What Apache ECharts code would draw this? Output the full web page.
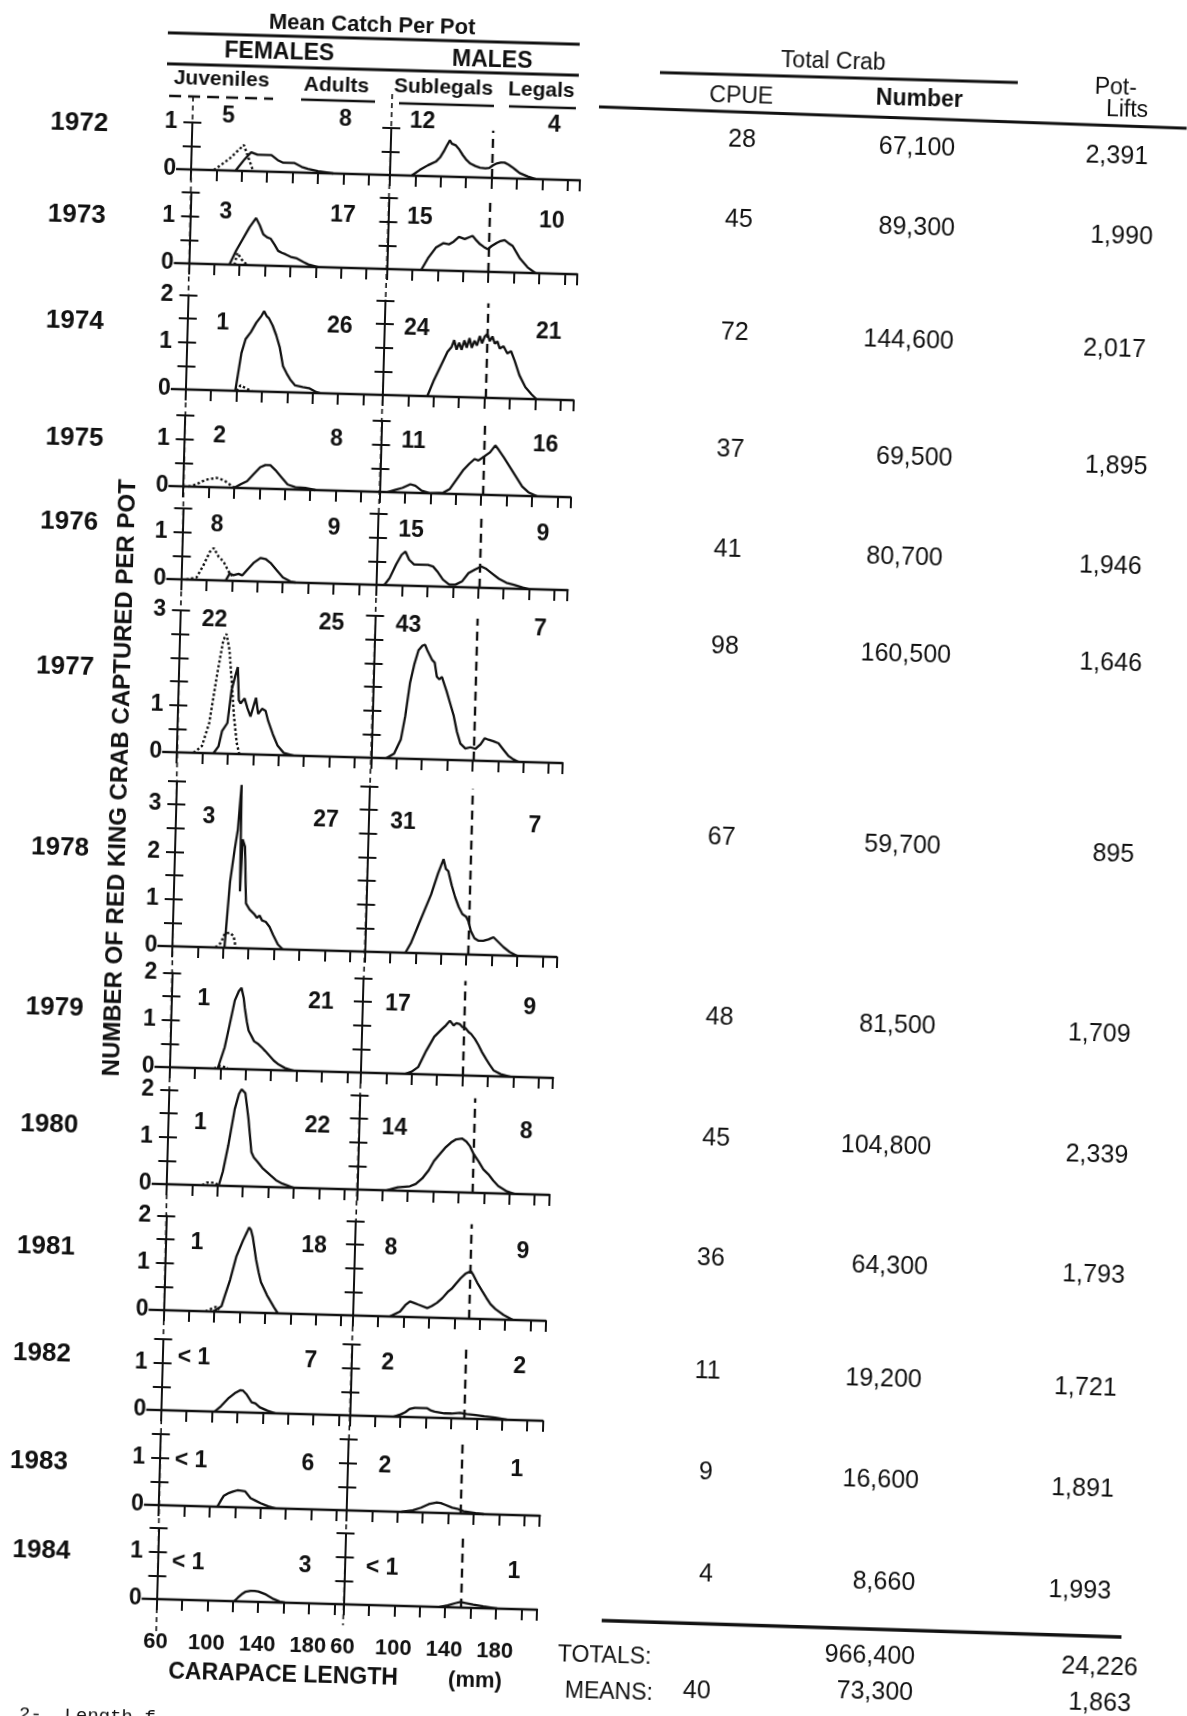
<!DOCTYPE html>
<html><head><meta charset="utf-8">
<script src="https://cdn.jsdelivr.net/npm/echarts/dist/echarts.min.js"></script>
<style>
html,body{margin:0;padding:0;background:#fff;overflow:hidden;width:1187px;height:1716px;}
#c{position:absolute;left:-40px;top:-40px;width:1267px;height:1796px;transform:rotate(1.6deg);transform-origin:50% 50%;}
</style></head><body><div id="c"></div>
<script>
// ---------------- DATA ----------------
const years = ['1972','1973','1974','1975','1976','1977','1978','1979','1980','1981','1982','1983','1984'];
const juvenileCounts = ['5','3','1','2','8','22','3','1','1','1','< 1','< 1','< 1'];
const adultCounts = ['8','17','26','8','9','25','27','21','22','18','7','6','3'];
const sublegalCounts = ['12','15','24','11','15','43','31','17','14','8','2','2','< 1'];
const legalCounts = ['4','10','21','16','9','7','7','9','8','9','2','1','1'];
const cpue = ['28','45','72','37','41','98','67','48','45','36','11','9','4'];
const crabNumber = ['67,100','89,300','144,600','69,500','80,700','160,500','59,700','81,500','104,800','64,300','19,200','16,600','8,660'];
const potLifts = ['2,391','1,990','2,017','1,895','1,946','1,646','895','1,709','2,339','1,793','1,721','1,891','1,993'];
const totalsRow = ['', '966,400', '24,226'];
const meansRow = ['40', '73,300', '1,863'];
const legalSize = [140,140,141,141,141,141,141,140,151,151,150,150,152];
const yAxisMax = [1,1.5,2,1.5,1.5,3,3.5,2,2,2,1.5,1.5,1.5];
const xTickLabels = [60,100,140,180];

const femaleJuveniles = [
 [[78,0],[90,0.25],[101,0.55],[109,0]],
 [[96,0],[98,0.25],[102,0.1],[106,0]],
 [[100,0],[103,0.12],[108,0.05],[112,0]],
 [[64,0],[70,0.05],[77,0.15],[86,0.2],[92,0.15],[99,0.02],[102,0]],
 [[64,0],[72,0.05],[77,0.3],[82,0.6],[85,0.68],[89,0.5],[93,0.4],[97,0.2],[100,0.1]],
 [[73,0],[79.5,0.15],[84.7,0.64],[87,1.1],[90,1.7],[94,2.4],[96.4,2.53],[99,2.2],[101.6,1.5],[104,0.8],[106.8,0.23],[109,0]],
 [[94,0],[98,0.1],[101,0.3],[105,0.32],[108,0.25],[110,0]],
 [[95,0],[100,0.06],[106,0.02]],
 [[88,0],[92,0.06],[98,0.06],[101,0]],
 [[93,0],[97,0.05],[101,0.1],[104,0.05]],
 [], [], []
];
const femaleAdults = [
 [[95,0],[102,0.25],[107,0.4],[112,0.35],[117,0.35],[123,0.35],[128,0.25],[132,0.2],[138,0.2],[141,0.2],[147,0.12],[152,0.08],[160,0.04],[172,0]],
 [[92,0],[97,0.3],[102,0.55],[107,0.8],[112,1.0],[115,0.85],[118,0.66],[121,0.6],[124,0.57],[127,0.45],[130,0.32],[133,0.28],[136,0.25],[140,0.2],[145,0.17],[150,0.1],[154,0.05],[162,0]],
 [[99,0],[101,0.4],[103,0.8],[106,1.1],[110,1.25],[114,1.45],[118,1.6],[120,1.7],[122,1.6],[124,1.55],[127,1.4],[130,1.2],[133,0.95],[136,0.55],[139,0.4],[142,0.27],[146,0.15],[152,0.12],[157,0.1],[162,0.03],[166,0]],
 [[100,0],[105,0.08],[110,0.15],[115,0.3],[120,0.45],[124,0.5],[128,0.5],[132,0.4],[137,0.25],[142,0.1],[148,0.05],[156,0.04],[164,0]],
 [[95,0],[98,0.15],[101,0.12],[105,0.15],[108,0.12],[112,0.25],[117,0.4],[122,0.5],[126,0.48],[130,0.4],[135,0.25],[140,0.1],[146,0.02],[150,0]],
 [[88.6,0],[92.5,0.15],[95,0.48],[99,0.65],[101.6,1.35],[104,1.63],[106,1.84],[107.5,1.14],[109,1.07],[112,1.18],[114.5,0.97],[117,0.8],[119,1.0],[121,1.2],[123,0.86],[126,0.97],[128.8,0.93],[131,0.72],[135,0.44],[139,0.2],[144,0.05],[152,0]],
 [[101,0],[104,1.4],[107,2.1],[109,2.5],[111,3.45],[112,1.2],[113,2.3],[115,2.15],[117,0.95],[120,0.82],[124,0.72],[126,0.65],[128,0.7],[130,0.6],[133,0.57],[136,0.47],[139,0.3],[143,0.1],[147,0]],
 [[98,0],[103,0.45],[106,0.87],[110,1.45],[113,1.65],[115,1.72],[117,1.5],[118,1.3],[120,1.0],[121.5,0.82],[124,0.7],[126,0.6],[129,0.55],[132,0.48],[135,0.4],[138.5,0.3],[142,0.2],[146,0.12],[151,0.05],[158,0]],
 [[101,0],[104,0.3],[107.7,0.86],[112,1.63],[115,1.95],[117,2.05],[120,1.97],[123,1.43],[126,0.73],[128,0.62],[131,0.53],[135,0.4],[141.5,0.25],[146,0.15],[151,0.08],[160,0]],
 [[99,0],[105.5,0.12],[108,0.35],[111.7,0.68],[116,1.17],[121,1.52],[124,1.7],[125.5,1.8],[127,1.75],[128.6,1.6],[131.7,1.12],[134,0.85],[136,0.65],[141,0.38],[147,0.12],[150,0]],
 [[102,0],[107,0.12],[113,0.3],[117.5,0.4],[122,0.47],[124,0.46],[127,0.38],[131,0.22],[134,0.2],[137.5,0.12],[143.7,0.05],[150,0]],
 [[106,0],[109,0.15],[111,0.24],[115,0.3],[118,0.33],[121.5,0.36],[125,0.35],[127.7,0.34],[132,0.2],[136,0.15],[140,0.1],[146,0.04],[152,0]],
 [[121,0],[124,0.08],[127.7,0.17],[130,0.21],[133.8,0.23],[137,0.23],[140,0.22],[146,0.16],[152,0.07],[157,0.02],[161,0]]
];
const males = [
 [[77,0],[83.6,0.13],[89.7,0.23],[95.8,0.31],[99,0.4],[101.8,0.53],[104,0.65],[106.4,0.77],[108,0.7],[111,0.67],[114,0.58],[117,0.46],[120,0.36],[123,0.29],[127,0.24],[130.6,0.21],[135,0.2],[138,0.21],[141,0.27],[144,0.31],[147,0.33],[150,0.33],[153,0.29],[156,0.24],[159,0.18],[162,0.12],[168.5,0.05],[175,0]],
 [[87,0],[92,0.25],[98,0.48],[104,0.58],[108.5,0.56],[112,0.62],[116,0.72],[120.6,0.68],[124,0.72],[126.7,0.75],[129,0.68],[132.7,0.58],[136,0.52],[138.8,0.48],[142,0.55],[146,0.62],[149,0.66],[152,0.68],[155,0.62],[158.5,0.56],[161,0.45],[164.5,0.3],[170.6,0.12],[177,0]],
 [[95,0],[100,0.35],[105,0.65],[110,0.95],[113,1.05],[115,1.2],[117,1.0],[119,1.15],[121,1.0],[123,1.2],[125,1.05],[127,1.25],[129,1.05],[131,1.2],[133,1.1],[135,1.3],[137,1.15],[139,1.3],[141,1.35],[143,1.2],[145,1.3],[147,1.15],[149,1.2],[151,1.05],[154,1.1],[157,0.95],[160,1.0],[163,0.8],[167,0.5],[172,0.25],[177,0.1],[181,0]],
 [[66,0],[72,0.05],[78,0.1],[84,0.18],[88,0.15],[93,0.05],[100,0],[110,0.02],[115,0.1],[120,0.3],[125,0.5],[130,0.65],[134,0.75],[137,0.72],[141,0.8],[146,0.9],[150,1.05],[153,0.95],[157,0.8],[162,0.6],[167,0.4],[172,0.2],[177,0.08],[184,0]],
 [[66,0],[70,0.15],[75,0.45],[79,0.65],[82,0.72],[85,0.55],[89,0.45],[94,0.45],[100,0.45],[104,0.42],[108,0.3],[112,0.15],[117,0.05],[122,0.05],[127,0.12],[132,0.3],[137,0.38],[142,0.45],[146,0.4],[151,0.3],[156,0.2],[162,0.12],[168,0.08],[175,0.03],[180,0]],
 [[72,0],[78,0.1],[83,0.4],[86,0.9],[89,1.6],[92,2.0],[95,2.3],[98,2.4],[100,2.42],[102,2.3],[104,2.2],[106,2.1],[108,2.05],[110,1.75],[112,1.7],[114,1.75],[116,1.6],[118,1.45],[121,1.2],[124,0.95],[127,0.6],[130,0.35],[134,0.25],[138,0.28],[142,0.25],[146,0.35],[149,0.48],[152,0.45],[156,0.42],[160,0.38],[164,0.25],[168,0.12],[172,0.05],[176,0]],
 [[92,0],[96,0.2],[101,0.55],[106,0.9],[111,1.25],[116,1.7],[120,2.0],[122,1.8],[124,1.75],[127,1.45],[130,1.2],[133,1.0],[136,0.85],[139,0.8],[141,0.7],[143,0.5],[146,0.35],[149,0.3],[153,0.3],[157,0.33],[161,0.38],[165,0.28],[169,0.18],[174,0.08],[180,0]],
 [[95,0],[100,0.05],[105,0.15],[111,0.5],[117,0.8],[123,0.97],[126,1.05],[129,1.15],[132,1.05],[134,1.1],[137,1.08],[139,1.02],[141.5,1.0],[144,0.92],[146,0.88],[149,0.78],[152,0.65],[155,0.5],[158.5,0.35],[161,0.25],[164.6,0.12],[170,0.05],[178,0]],
 [[83,0],[92,0.07],[101.5,0.1],[106,0.15],[111,0.27],[116,0.45],[120,0.65],[125,0.82],[129,0.95],[133,1.05],[137,1.12],[141.5,1.14],[145,1.08],[148,0.98],[151,0.82],[155,0.67],[159,0.5],[163,0.4],[167,0.27],[171,0.16],[178,0.05],[184,0]],
 [[89,0],[97,0.11],[101,0.25],[104.6,0.33],[108,0.3],[111,0.27],[118.5,0.2],[122,0.25],[126,0.32],[130,0.42],[134,0.55],[137,0.62],[140,0.72],[144,0.85],[147.7,0.95],[150,0.98],[152,1.0],[154,0.92],[157,0.77],[161,0.6],[164.6,0.45],[168,0.32],[172,0.22],[178.5,0.1],[186,0]],
 [[94.5,0],[100,0.05],[103.7,0.1],[107,0.17],[111,0.2],[116,0.2],[120.6,0.2],[124,0.15],[126.8,0.13],[134.5,0.1],[140,0.1],[146.8,0.12],[152,0.1],[159,0.08],[166,0.06],[174.5,0.04],[183.7,0]],
 [[103,0],[112,0.04],[118.5,0.1],[124.6,0.18],[130.8,0.22],[134,0.21],[137,0.18],[143,0.12],[147,0.1],[152,0.05],[161.5,0.02],[168,0]],
 [[135,0],[142,0.04],[148,0.09],[152,0.12],[156,0.1],[162,0.07],[170,0.04],[176,0.02],[181,0]]
];

// ---------------- LAYOUT (positions in un-rotated frame) ----------------
const OX = 40, OY = 40;          // div offset
const UNIT = 47.3;               // px per 1 crab/pot
const PX_PER_MM = 1.27;
const baselineY = [181,275,401,498,591,764,958,1079,1196,1322,1422,1517,1611];
const yearX = [59,59,60,63,60,60,60,59,57,57,56,56,61];
const yearY = [138,230,336,453,537,682,863,1023,1140,1262,1369,1477,1566];
const countRise = [54,52,67,51,55,133,130,69,62,68,53,45,37];
const countX = [208,325,402,534];
const tableRowY = [139,219,332,449,549,646,837,1017,1138,1258,1371,1472,1574];
const cpueX = [722,721,720,719,719,719,721,724,724,722,722,723,726];
const numberX = [897,899,894,903,896,900,902,902,894,901,898,898,904];
const potX = [1097,1104,1100,1105,1102,1105,1113,1104,1105,1105,1100,1100,1100];
const skipLabels = {5:[2]};
function lerp(a, b, i) { const t = (baselineY[i]-baselineY[0])/(baselineY[12]-baselineY[0]); return a + (b-a)*t; }

const INK = '#111';
const FF = 'Liberation Sans';
const LW = 2.3;

const grid = [], xAxis = [], yAxis = [], series = [], graphic = [];
const N = years.length;

function txt(x, y, s, size, bold, align, extra) {
  return Object.assign({type:'text', x:x+OX, y:y+OY, silent:true, z:10,
    style:{text:s, fontSize:size, fontWeight:bold?'bold':'normal', fontFamily:FF, fill:INK,
      textAlign:align||'center', align:align||'center', textVerticalAlign:'middle', verticalAlign:'middle'}}, extra||{});
}
function ln(x1,y1,x2,y2,w,dash){
  return {type:'line', silent:true, z:5, shape:{x1:x1+OX,y1:y1+OY,x2:x2+OX,y2:y2+OY},
    style:{stroke:INK, lineWidth:w, lineDash:dash||null}};
}

for (let i = 0; i < N; i++) {
  const fx = lerp(172, 177.5, i), mx = lerp(371, 364.5, i), ex = lerp(561, 558, i);
  const h = yAxisMax[i] * UNIT;
  const top = baselineY[i] - h + OY;
  const last = i === N - 1;
  grid.push({left:fx+OX, top:top, width:mx-fx, height:h});
  grid.push({left:mx+OX, top:top, width:ex-mx, height:h});
  [[60+(mx-fx)/PX_PER_MM, 2*i],[60+(ex-mx)/PX_PER_MM, 2*i+1]].forEach(([xmax, gi]) => {
    xAxis.push({gridIndex:gi, type:'value', min:60, max:xmax, interval:20,
      axisLine:{show:true, lineStyle:{color:INK, width:2.4}},
      axisTick:{show:true, length:11, lineStyle:{color:INK, width:2}},
      splitLine:{show:false},
      axisLabel: last ? {show:true, rotate:0, margin:32, fontSize:22, fontWeight:'bold', fontFamily:FF, color:INK,
        formatter: v => xTickLabels.includes(v) ? String(v) : ''} : {show:false}});
    const female = gi % 2 === 0;
    const skip = skipLabels[i] || [];
    yAxis.push({gridIndex:gi, type:'value', min:0, max:yAxisMax[i], interval:0.5, position:'left',
      axisLine:{show:true, lineStyle:{color:INK, width:2}},
      axisTick:{show:true, inside:false, length:9, lineStyle:{color:INK, width:2}},
      splitLine:{show:false},
      axisLabel: female ? {show:true, rotate:0, hideOverlap:false, margin:15, fontSize:23, fontWeight:'bold', fontFamily:FF, color:INK,
        formatter: v => (Number.isInteger(v) && !skip.includes(v)) ? String(v) : ''} : {show:false}});
    yAxis.push({gridIndex:gi, type:'value', min:0, max:yAxisMax[i], interval:0.5, position:'left',
      axisLine:{show:false},
      axisTick:{show:true, inside:true, length:9, lineStyle:{color:INK, width:2}},
      splitLine:{show:false}, axisLabel:{show:false}});
  });
  series.push({type:'line', xAxisIndex:2*i, yAxisIndex:4*i, data:femaleJuveniles[i], symbol:'none', clip:false,
    lineStyle:{color:INK, width:2.4, type:'dotted'}, silent:true, z:3});
  series.push({type:'line', xAxisIndex:2*i, yAxisIndex:4*i, data:femaleAdults[i], symbol:'none', clip:false,
    lineStyle:{color:INK, width:LW}, silent:true, z:4});
  series.push({type:'line', xAxisIndex:2*i+1, yAxisIndex:4*i+2, data:males[i], symbol:'none', clip:false,
    lineStyle:{color:INK, width:LW}, silent:true, z:4,
    markLine:{silent:true, symbol:['none','none'], label:{show:false},
      lineStyle:{color:INK, type:[9,6], width:2.4},
      data:[{xAxis:legalSize[i]}]}});

  graphic.push(ln(fx-15, baselineY[i], fx, baselineY[i], 2.4));
  graphic.push(txt(yearX[i], yearY[i], years[i], 26, true));
  const cy = baselineY[i] - countRise[i];
  graphic.push(txt(countX[0], cy, juvenileCounts[i], 23, true));
  graphic.push(txt(countX[1], cy, adultCounts[i], 23, true));
  graphic.push(txt(countX[2], cy, sublegalCounts[i], 23, true));
  graphic.push(txt(countX[3], cy, legalCounts[i], 23, true));
  graphic.push(txt(cpueX[i], tableRowY[i]-3, cpue[i], 25, false));
  graphic.push(txt(numberX[i], tableRowY[i], crabNumber[i], 25, false));
  graphic.push(txt(potX[i], tableRowY[i]+3, potLifts[i], 25, false));
}

// continuous vertical axis guides
graphic.push(ln(172, 108, 178, 1645, 1.6, [5,4]));
graphic.push(ln(371, 100, 364.5, 1632, 1.6, [5,4]));

// header
graphic.push(txt(349, 32, 'Mean Catch Per Pot', 22, true));
graphic.push(ln(145, 45, 557, 45, 3));
graphic.push(txt(257, 62, 'FEMALES', 23, true));
graphic.push(txt(470, 64, 'MALES', 23, true));
graphic.push(ln(145, 76, 557, 76, 3));
graphic.push(txt(200, 90, 'Juveniles', 21, true));
graphic.push(txt(315, 93, 'Adults', 21, true));
graphic.push(txt(422, 92, 'Sublegals', 21, true));
graphic.push(txt(520, 92, 'Legals', 21, true));
graphic.push(ln(148, 108, 252, 108, 2.5, [12,7]));
graphic.push(ln(280, 108, 354, 108, 2.5));
graphic.push(ln(378, 109, 473, 109, 2.5));
graphic.push(ln(488, 109, 555, 109, 2.5));

// table header
graphic.push(txt(811, 56, 'Total Crab', 23, false));
graphic.push(ln(638, 71, 996, 71, 3));
graphic.push(txt(720, 93, 'CPUE', 23, false));
graphic.push(txt(898, 91, 'Number', 23, true));
graphic.push(txt(1094, 74, 'Pot-', 23, false));
graphic.push(txt(1106, 96, 'Lifts', 23, false));
graphic.push(ln(578, 107, 1166, 112, 3));

// totals
graphic.push(ln(623, 1620, 1143, 1622, 3.5));
graphic.push(txt(580, 1656, 'TOTALS:', 23, false, 'left'));
graphic.push(txt(892, 1648, totalsRow[1], 25, false));
graphic.push(txt(1122, 1653, totalsRow[2], 25, false));
graphic.push(txt(588, 1692, 'MEANS:', 23, false, 'left'));
graphic.push(txt(720, 1688, meansRow[0], 25, false));
graphic.push(txt(898, 1684, meansRow[1], 25, false));
graphic.push(txt(1123, 1689, meansRow[2], 25, false));

// axis titles
graphic.push(txt(118, 791, 'NUMBER OF RED KING CRAB CAPTURED PER POT', 24, true, 'center', {rotation:Math.PI/2}));
graphic.push(txt(306, 1684, 'CARAPACE LENGTH', 23, true));
graphic.push(txt(498, 1684, '(mm)', 22, true));
graphic.push({type:'text', x:43+OX, y:1730+OY, silent:true,
  style:{text:'2-  Length f', fontSize:19, fontFamily:'Liberation Mono', fill:INK, align:'left', textAlign:'left', verticalAlign:'middle', textVerticalAlign:'middle'}});

const chart = echarts.init(document.getElementById('c'), null, {renderer:'canvas'});
chart.setOption({
  backgroundColor:'#ffffff',
  animation:false,
  grid, xAxis, yAxis, series, graphic
});
</script>
</body></html>
